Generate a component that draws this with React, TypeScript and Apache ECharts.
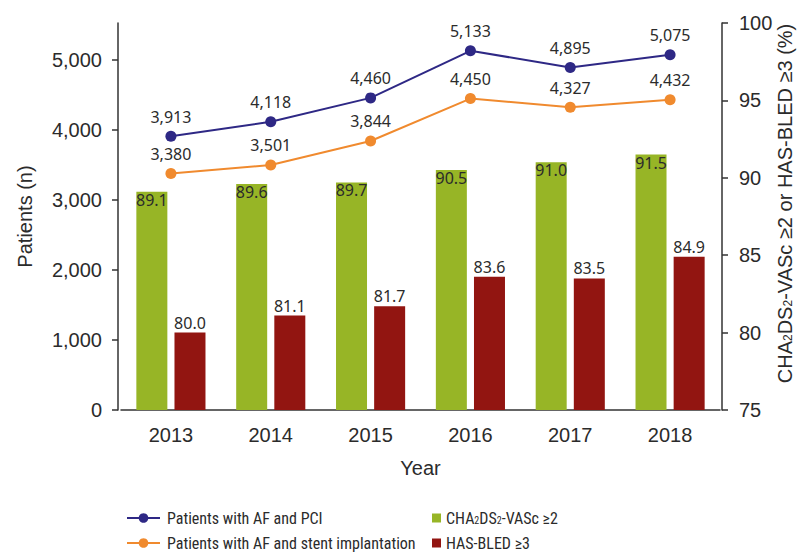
import React, { useEffect, useRef } from "react";
import * as echarts from "echarts";

const years = ["2013", "2014", "2015", "2016", "2017", "2018"];
const afPci = [3913, 4118, 4460, 5133, 4895, 5075];
const afStent = [3380, 3501, 3844, 4450, 4327, 4432];
const chaVasc = [89.1, 89.6, 89.7, 90.5, 91.0, 91.5];
const hasBled = [80.0, 81.1, 81.7, 83.6, 83.5, 84.9];
const leftTicks = [0, 1000, 2000, 3000, 4000, 5000];

const BLUE = "#2e2885";
const ORANGE = "#f08a2e";
const GREEN = "#97b526";
const RED = "#921511";
const TXT = "#2b2b2b";
const AXIS = "#333333";
const FONT = "'Liberation Sans', Arial, sans-serif";
const LFONT = "'Noto Sans', Roboto, sans-serif";
const LEGFONT = "'Liberation Sans Narrow', 'Roboto Condensed', 'DejaVu Sans Condensed', 'Liberation Sans', sans-serif";

const legendRich = {
  n: { fontFamily: LEGFONT, fontSize: 16, color: TXT, lineHeight: 16 },
  s: { fontFamily: LEGFONT, fontSize: 10, color: TXT, lineHeight: 10, padding: [5, 0, 0, 0] },
};

export default function App() {
  const ref = useRef<HTMLDivElement>(null);
  useEffect(() => {
    document.body.style.margin = "0";
    if (!ref.current) return;
    const chart = echarts.init(ref.current, null, { renderer: "svg" });
    chart.setOption({
      animation: false,
      textStyle: { fontFamily: FONT, color: TXT },
      grid: { left: 121, right: 80, top: 23, bottom: 145, containLabel: false, outerBoundsMode: "none" },
      legend: [
        {
          orient: "vertical",
          left: 126,
          top: 510,
          padding: 0,
          itemWidth: 33,
          itemHeight: 12,
          itemGap: 9,
          data: ["Patients with AF and PCI", "Patients with AF and stent implantation"],
          textStyle: { fontFamily: LEGFONT, fontSize: 16, color: TXT, lineHeight: 16, padding: [0, 0, 0, 2] },
        },
        {
          orient: "vertical",
          left: 432,
          top: 510,
          padding: 0,
          itemWidth: 9,
          itemHeight: 9,
          itemGap: 9,
          data: [
            { name: "CHA2DS2-VASc ≥2", icon: "rect" },
            { name: "HAS-BLED ≥3", icon: "rect" },
          ],
          formatter: (name: string) =>
            name === "CHA2DS2-VASc ≥2" ? "{n|CHA}{s|2}{n|DS}{s|2}{n|-VASc ≥2}" : "{n|" + name + "}",
          textStyle: { fontFamily: LEGFONT, fontSize: 16, color: TXT, lineHeight: 16, rich: legendRich },
        },
      ],
      xAxis: {
        type: "category",
        data: years,
        name: "Year",
        nameLocation: "middle",
        nameGap: 48,
        nameTextStyle: { fontSize: 20, color: TXT, fontFamily: FONT },
        axisLine: { lineStyle: { color: AXIS, width: 1.5 } },
        axisTick: { alignWithLabel: true, length: 6, lineStyle: { color: AXIS, width: 1.5 } },
        axisLabel: { fontSize: 20, color: TXT, margin: 15 },
      },
      yAxis: [
        {
          type: "value",
          min: 0,
          max: 5530,
          interval: 1000,
          offset: 3,
          name: "Patients (n)",
          nameLocation: "middle",
          nameGap: 83,
          nameRotate: 90,
          nameMoveOverlap: false,
          nameTextStyle: { fontSize: 20, color: TXT, fontFamily: FONT },
          axisLine: { show: true, lineStyle: { color: AXIS, width: 1.5 } },
          axisTick: { show: true, length: 6, customValues: leftTicks, lineStyle: { color: AXIS, width: 1.5 } },
          axisLabel: {
            fontSize: 20,
            color: TXT,
            margin: 16,
            customValues: leftTicks,
            formatter: (v: number) => v.toLocaleString("en-US"),
          },
          splitLine: { show: false },
        },
        {
          type: "value",
          min: 75,
          max: 100,
          interval: 5,
          offset: 2,
          name: "{n|CHA}{s|2}{n|DS}{s|2}{n|-VASc ≥2 or HAS-BLED ≥3 (%)}",
          nameLocation: "middle",
          nameGap: 52,
          nameRotate: 90,
          nameMoveOverlap: false,
          nameTextStyle: {
            fontSize: 20,
            color: TXT,
            fontFamily: FONT,
            lineHeight: 22,
            padding: [0, 0, 0, 26],
            rich: {
              n: { fontSize: 20, fontFamily: FONT, color: TXT, lineHeight: 22 },
              s: { fontSize: 12, fontFamily: FONT, color: TXT, lineHeight: 14, padding: [6, 0, 0, 0] },
            },
          },
          axisLine: { show: true, lineStyle: { color: AXIS, width: 1.5 } },
          axisTick: { show: true, length: 6, lineStyle: { color: AXIS, width: 1.5 } },
          axisLabel: { fontSize: 20, color: TXT, margin: 17 },
          splitLine: { show: false },
        },
      ],
      series: [
        {
          name: "CHA2DS2-VASc ≥2",
          type: "bar",
          yAxisIndex: 1,
          data: chaVasc,
          barWidth: 31,
          barGap: "23%",
          itemStyle: { color: GREEN },
          label: {
            show: true,
            position: "insideTop",
            distance: 0,
            fontSize: 16,
            color: TXT,
            fontFamily: LFONT,
            formatter: (p: any) => p.value.toFixed(1),
          },
        },
        {
          name: "HAS-BLED ≥3",
          type: "bar",
          yAxisIndex: 1,
          data: hasBled,
          barWidth: 31,
          itemStyle: { color: RED },
          label: {
            show: true,
            position: "top",
            distance: 2,
            fontSize: 16,
            color: TXT,
            fontFamily: LFONT,
            formatter: (p: any) => p.value.toFixed(1),
          },
        },
        {
          name: "Patients with AF and PCI",
          type: "line",
          yAxisIndex: 0,
          data: afPci,
          symbol: "circle",
          symbolSize: 11,
          lineStyle: { color: BLUE, width: 2 },
          itemStyle: { color: BLUE },
          label: {
            show: true,
            position: "top",
            distance: 6,
            fontSize: 16,
            color: TXT,
            fontFamily: LFONT,
            formatter: (p: any) => p.value.toLocaleString("en-US"),
          },
        },
        {
          name: "Patients with AF and stent implantation",
          type: "line",
          yAxisIndex: 0,
          data: afStent,
          symbol: "circle",
          symbolSize: 11,
          lineStyle: { color: ORANGE, width: 2 },
          itemStyle: { color: ORANGE },
          label: {
            show: true,
            position: "top",
            distance: 6,
            fontSize: 16,
            color: TXT,
            fontFamily: LFONT,
            formatter: (p: any) => p.value.toLocaleString("en-US"),
          },
        },
      ],
    });
    return () => chart.dispose();
  }, []);
  return <div ref={ref} style={{ width: 800, height: 555 }} />;
}
